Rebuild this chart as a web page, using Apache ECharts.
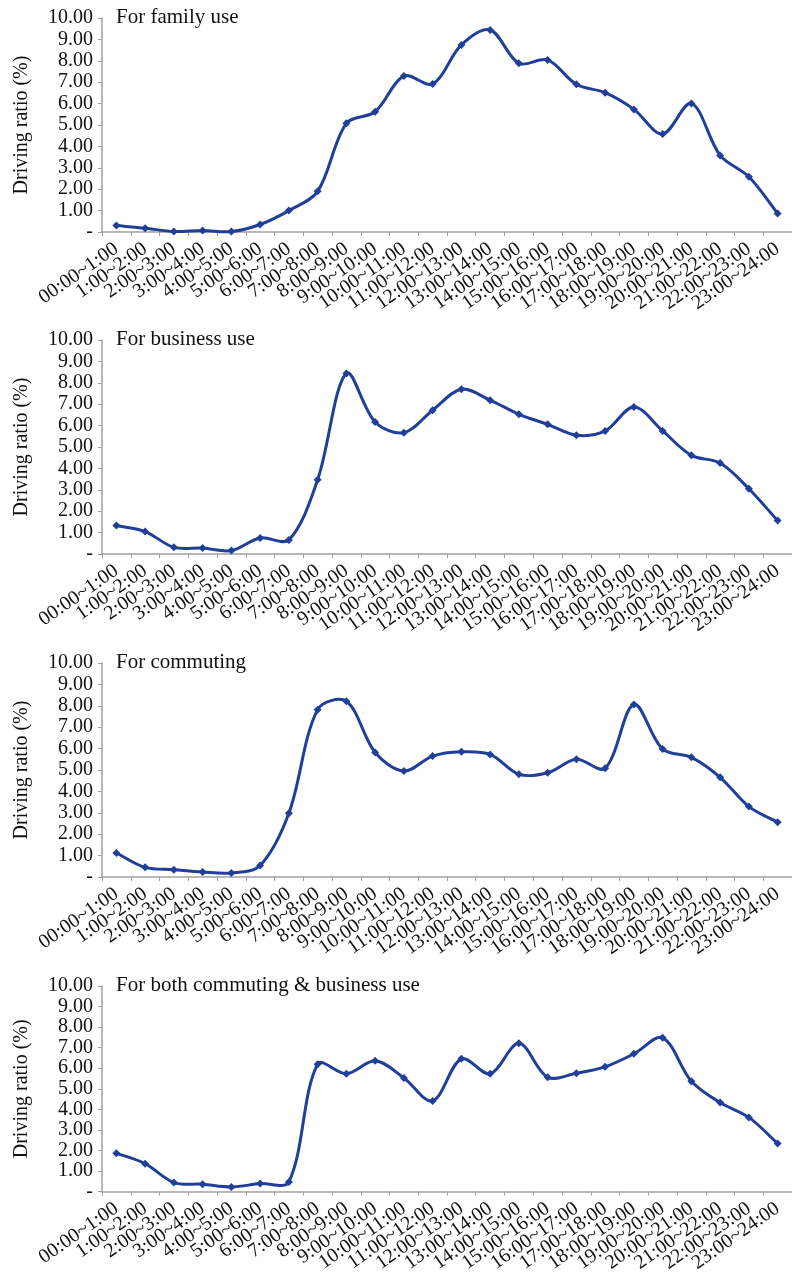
<!DOCTYPE html>
<html>
<head>
<meta charset="utf-8">
<style>
  html, body { margin: 0; padding: 0; background: #fff; }
  #chart { width: 792px; height: 1275px; }
</style>
<script src="https://cdn.jsdelivr.net/npm/echarts@6/dist/echarts.min.js"></script>
</head>
<body>
<div id="chart"></div>
<script>
// Hourly time slots along the x axis
const hours = [
  '00:00~1:00', '1:00~2:00', '2:00~3:00', '3:00~4:00', '4:00~5:00', '5:00~6:00',
  '6:00~7:00', '7:00~8:00', '8:00~9:00', '9:00~10:00', '10:00~11:00', '11:00~12:00',
  '12:00~13:00', '13:00~14:00', '14:00~15:00', '15:00~16:00', '16:00~17:00', '17:00~18:00',
  '18:00~19:00', '19:00~20:00', '20:00~21:00', '21:00~22:00', '22:00~23:00', '23:00~24:00'
];

// Driving ratio (%) per hour for each vehicle-use group
const familyUse = [0.30, 0.18, 0.02, 0.07, 0.02, 0.35, 1.00, 1.90, 5.08, 5.62, 7.29, 6.92,
                   8.74, 9.44, 7.88, 8.04, 6.90, 6.51, 5.73, 4.58, 6.01, 3.58, 2.58, 0.87];
const businessUse = [1.33, 1.05, 0.31, 0.28, 0.16, 0.75, 0.66, 3.47, 8.44, 6.17, 5.67, 6.72,
                     7.70, 7.19, 6.53, 6.06, 5.55, 5.75, 6.87, 5.75, 4.61, 4.25, 3.05, 1.56];
const commuting = [1.12, 0.45, 0.34, 0.23, 0.19, 0.54, 2.98, 7.82, 8.21, 5.82, 4.95, 5.65,
                   5.85, 5.73, 4.80, 4.87, 5.50, 5.08, 8.06, 5.98, 5.59, 4.66, 3.29, 2.56];
const bothUse = [1.87, 1.36, 0.44, 0.36, 0.23, 0.39, 0.47, 6.20, 5.73, 6.36, 5.53, 4.41,
                 6.46, 5.73, 7.21, 5.56, 5.76, 6.07, 6.70, 7.48, 5.37, 4.33, 3.61, 2.34];

const panelTitles = ['For family use', 'For business use', 'For commuting', 'For both commuting & business use'];
const panelData = [familyUse, businessUse, commuting, bothUse];
const yAxisName = 'Driving ratio (%)';

// Layout of the four stacked panels
const panelTops = [18, 340, 663, 986];
const panelHeight = 214;
const gridLeft = 102;
const gridWidth = 696;

const FONT = "'Liberation Serif', 'Times New Roman', serif";
const LINE_COLOR = '#1f3f99';
const AXIS_COLOR = '#a0a0a0';

// Smoothed curve: one cubic Bezier per segment. Tangents follow the neighbouring
// points and are split in proportion to the adjacent segment lengths.
function smoothCurve(values) {
  const n = values.length;
  const TENSION = 1 / 6;
  return function (params, api) {
    const i = params.dataIndex;
    if (i >= n - 1) return null;
    const pt = k => {
      const c = Math.max(0, Math.min(n - 1, k));
      return api.coord([c, values[c]]);
    };
    const dist = (a, b) => Math.hypot(b[0] - a[0], b[1] - a[1]);
    // control point leaving (dir = +1) or entering (dir = -1) point k
    const ctrl = (k, dir) => {
      const prev = pt(k - 1), cur = pt(k), next = pt(k + 1);
      const lp = dist(prev, cur), ln = dist(cur, next);
      const total = lp + ln || 1;
      const w = dir > 0 ? 2 * ln / total : 2 * lp / total;
      return [
        cur[0] + dir * (next[0] - prev[0]) * TENSION * w,
        cur[1] + dir * (next[1] - prev[1]) * TENSION * w
      ];
    };
    const a = pt(i), b = pt(i + 1);
    const c1 = ctrl(i, 1), c2 = ctrl(i + 1, -1);
    return {
      type: 'bezierCurve',
      shape: { x1: a[0], y1: a[1], x2: b[0], y2: b[1], cpx1: c1[0], cpy1: c1[1], cpx2: c2[0], cpy2: c2[1] },
      style: { fill: null, stroke: LINE_COLOR, lineWidth: 3, lineCap: 'round', lineJoin: 'round' },
      silent: true
    };
  };
}

const grids = [], xAxes = [], yAxes = [], series = [], titles = [];

panelData.forEach((data, i) => {
  grids.push({ left: gridLeft, top: panelTops[i], width: gridWidth, height: panelHeight, containLabel: false });
  xAxes.push({
    type: 'category', gridIndex: i, data: hours, boundaryGap: true,
    axisLine: { lineStyle: { color: AXIS_COLOR, width: 1.5 } },
    axisTick: { show: true, alignWithLabel: false, length: 4, lineStyle: { color: AXIS_COLOR } },
    axisLabel: { rotate: 35, interval: 0, margin: 15, color: '#111', fontFamily: FONT, fontSize: 20 }
  });
  yAxes.push({
    type: 'value', gridIndex: i, min: 0, max: 10, interval: 1,
    name: yAxisName, nameLocation: 'middle', nameGap: 70, nameRotate: 90,
    nameTextStyle: { color: '#111', fontFamily: FONT, fontSize: 20 },
    splitLine: { show: false },
    axisLine: { show: true, lineStyle: { color: AXIS_COLOR, width: 1.5 } },
    axisTick: { show: true, length: 4, lineStyle: { color: AXIS_COLOR } },
    axisLabel: {
      margin: 9, color: '#111', fontFamily: FONT, fontSize: 20,
      formatter: v => (v === 0 ? '-' : v.toFixed(2))
    }
  });
  // the smoothed curve
  series.push({
    type: 'custom', xAxisIndex: i, yAxisIndex: i,
    data: data.map((v, k) => [k, v]),
    renderItem: smoothCurve(data),
    z: 2
  });
  // diamond markers on each hourly value
  series.push({
    type: 'line', xAxisIndex: i, yAxisIndex: i, data: data,
    symbol: 'diamond', symbolSize: 8,
    lineStyle: { width: 0, opacity: 0 },
    itemStyle: { color: LINE_COLOR },
    z: 3
  });
  titles.push({
    text: panelTitles[i], left: 116, top: panelTops[i] - 11, padding: 0,
    textStyle: { color: '#111', fontFamily: FONT, fontSize: 21, fontWeight: 'normal' }
  });
});

const chart = echarts.init(document.getElementById('chart'), null, { renderer: 'canvas' });
chart.setOption({
  animation: false,
  backgroundColor: '#fff',
  title: titles,
  grid: grids,
  xAxis: xAxes,
  yAxis: yAxes,
  series: series
});
</script>
</body>
</html>
